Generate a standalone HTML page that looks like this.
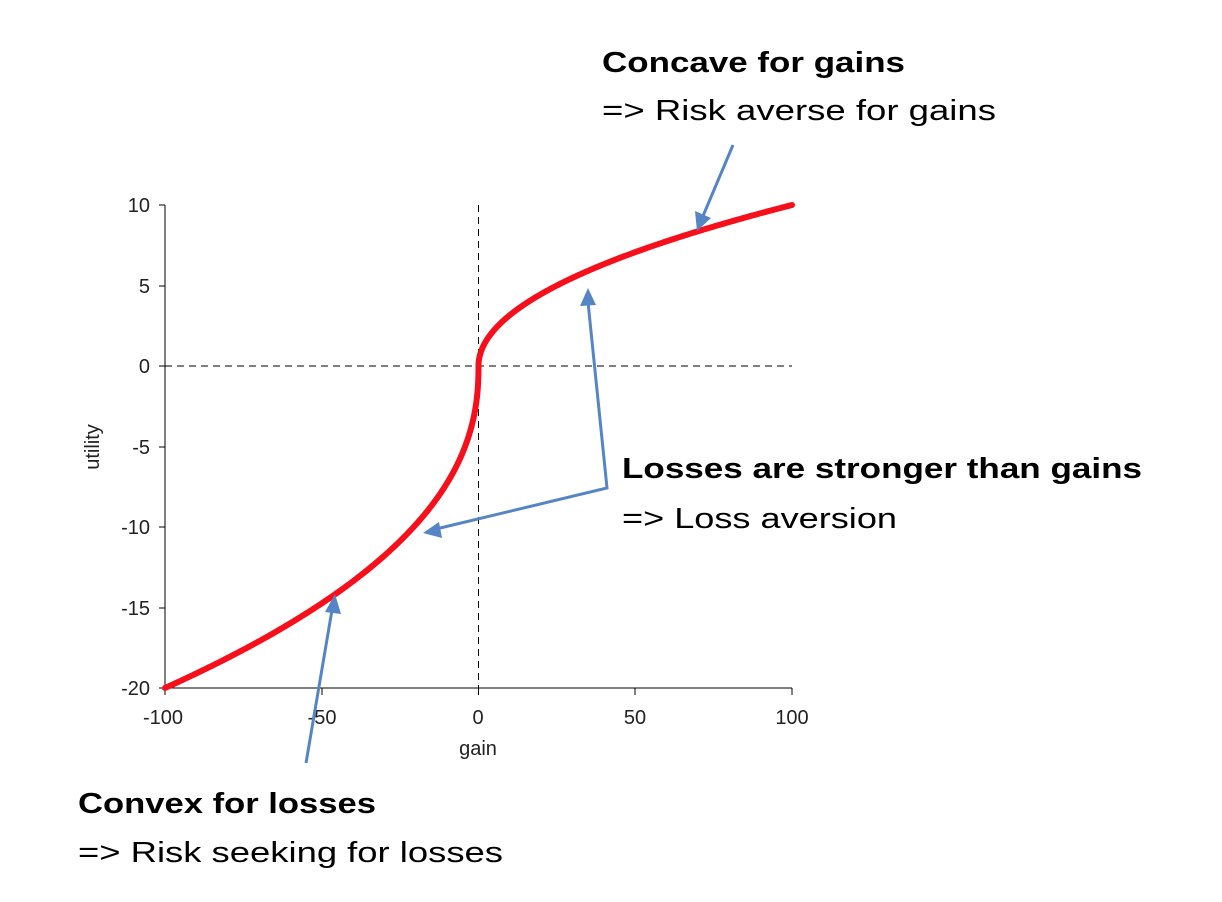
<!DOCTYPE html>
<html><head><meta charset="utf-8"><style>
html,body{margin:0;padding:0;background:#fff;}
svg{display:block;}
</style></head><body>
<svg id="s" width="1222" height="902" viewBox="0 0 1222 902" xmlns="http://www.w3.org/2000/svg" font-family="Liberation Sans, Arial, sans-serif">
<!-- axes -->
<line x1="165" y1="205" x2="165" y2="688" stroke="#000" stroke-width="1"/>
<line x1="165" y1="688" x2="792" y2="688" stroke="#000" stroke-width="1"/>
<g stroke="#000" stroke-width="1">
<line x1="159" y1="205" x2="165" y2="205"/><line x1="159" y1="286" x2="165" y2="286"/>
<line x1="159" y1="366" x2="165" y2="366"/><line x1="159" y1="447" x2="165" y2="447"/>
<line x1="159" y1="527" x2="165" y2="527"/><line x1="159" y1="608" x2="165" y2="608"/>
<line x1="159" y1="688" x2="165" y2="688"/>
<line x1="165" y1="688" x2="165" y2="695"/><line x1="322" y1="688" x2="322" y2="695"/>
<line x1="478.5" y1="688" x2="478.5" y2="695"/><line x1="635" y1="688" x2="635" y2="695"/>
<line x1="792" y1="688" x2="792" y2="695"/>
</g>
<line x1="478.5" y1="205" x2="478.5" y2="688" stroke="#000" stroke-dasharray="7,5"/>
<line x1="165" y1="366" x2="792" y2="366" stroke="#000" stroke-dasharray="7,5"/>
<g font-size="20" fill="#222" text-anchor="end">
<text x="150" y="212">10</text><text x="150" y="293">5</text><text x="150" y="373">0</text>
<text x="150" y="454">-5</text><text x="150" y="534">-10</text><text x="150" y="615">-15</text>
<text x="150" y="695">-20</text>
</g>
<g font-size="20" fill="#222" text-anchor="middle">
<text x="163" y="724">-100</text><text x="322" y="724">-50</text><text x="478" y="724">0</text>
<text x="635" y="724">50</text><text x="792" y="724">100</text>
<text x="478" y="755">gain</text>
</g>
<text transform="translate(99,447) rotate(-90)" font-size="20" fill="#222" text-anchor="middle">utility</text>
<path id="curve" fill="none" stroke="#f5101c" stroke-width="6" stroke-linecap="round"/>
<!-- arrows -->
<g stroke="#5585c5" stroke-width="3" fill="none">
<line x1="733" y1="145" x2="703" y2="216"/>
<polyline points="588,302 607,488 436,529"/>
<line x1="306" y1="763" x2="332" y2="610"/>
</g>
<g fill="#5585c5">
<path d="M697,231 L695,211 L711,218 Z"/>
<path d="M588,288 L580,306 L596,305 Z"/>
<path d="M423,533 L439,522 L442,538 Z"/>
<path d="M335,594 L325,612 L341,614 Z"/>
</g>
<g font-size="29" fill="#000">
<text x="602" y="72" font-weight="bold" textLength="303" lengthAdjust="spacingAndGlyphs">Concave for gains</text>
<text x="602" y="120" textLength="394" lengthAdjust="spacingAndGlyphs">=&gt; Risk averse for gains</text>
<text x="622" y="478" font-weight="bold" textLength="520" lengthAdjust="spacingAndGlyphs">Losses are stronger than gains</text>
<text x="622" y="528" textLength="275" lengthAdjust="spacingAndGlyphs">=&gt; Loss aversion</text>
<text x="78" y="813" font-weight="bold" textLength="298" lengthAdjust="spacingAndGlyphs">Convex for losses</text>
<text x="78" y="862" textLength="425" lengthAdjust="spacingAndGlyphs">=&gt; Risk seeking for losses</text>
</g>
</svg>
<script>
(function(){
var pts=[];
function X(x){return 478.5+x*3.135;}
function Y(u){return 366-u*16.1;}
for(var i=0;i<=600;i++){
  var t=-1+i/300; var x=100*Math.sign(t)*Math.pow(Math.abs(t),2.5);
  var u=x>=0?Math.sqrt(x):-20*Math.pow(-x/100,0.44);
  pts.push(X(x).toFixed(2)+","+Y(u).toFixed(2));
}
document.getElementById('curve').setAttribute('d','M'+pts.join(' L'));
})();
</script>
</body></html>
